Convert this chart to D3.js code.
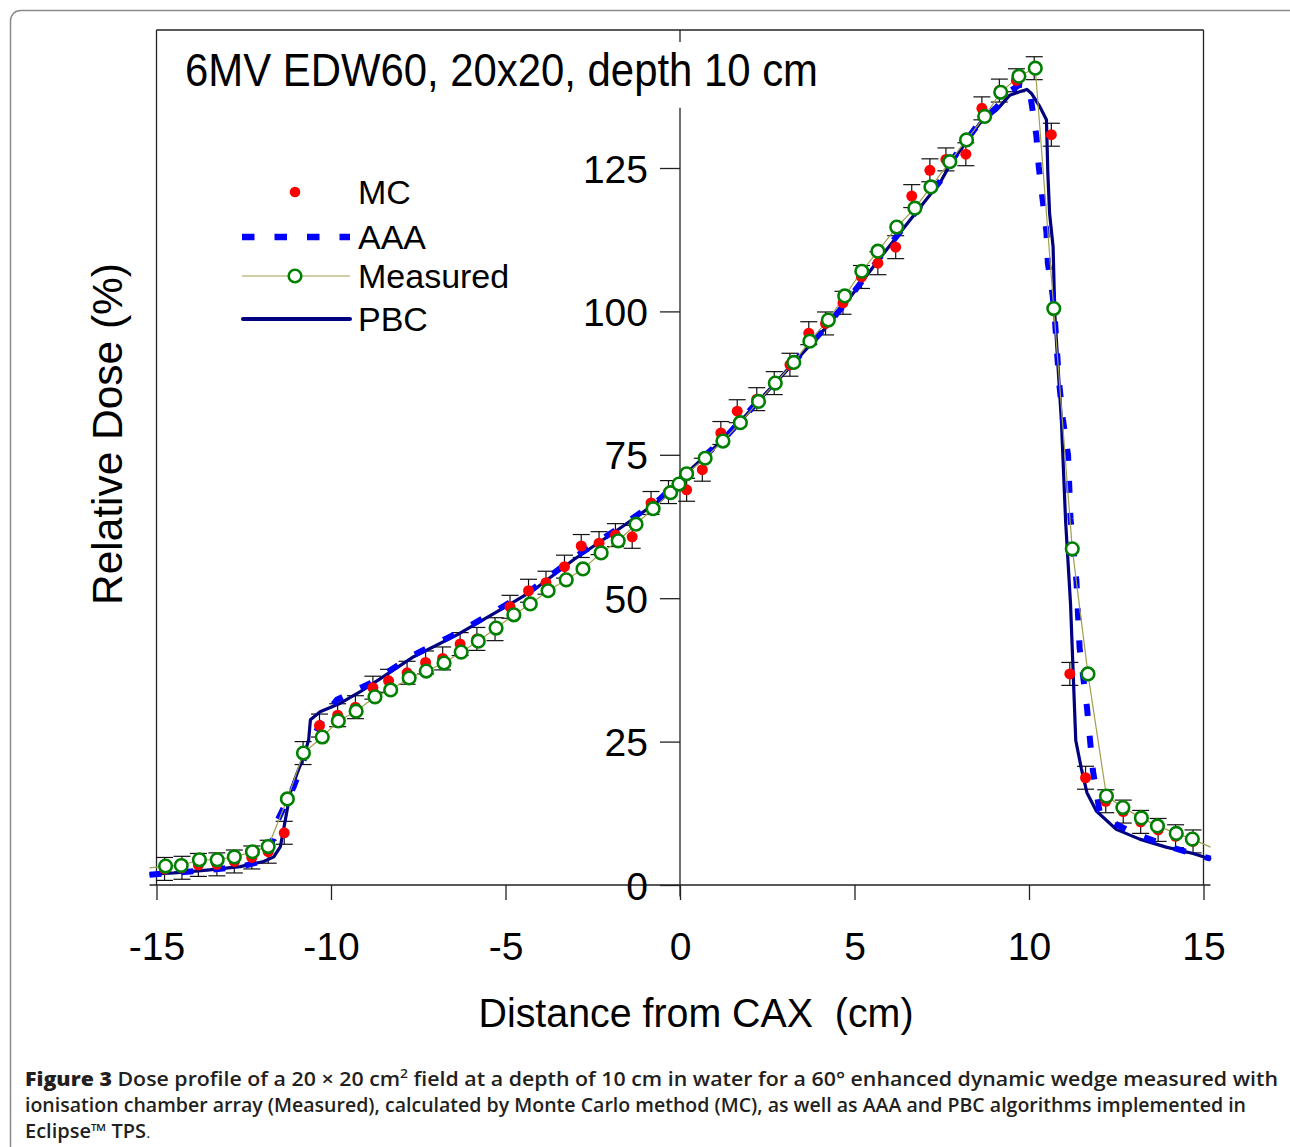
<!DOCTYPE html>
<html><head><meta charset="utf-8">
<script src="https://cdn.jsdelivr.net/npm/d3@7"></script>
<style>body{margin:0;background:#fff}svg{display:block}</style>
</head><body>
<script>
const xTicks = [-15,-10,-5,0,5,10,15];
const yTicks = [0,25,50,75,100,125];

const measuredX = [-14.74,-14.29,-13.77,-13.26,-12.77,-12.25,-11.8,-11.25,-10.79,-10.25,-9.79,-9.28,-8.74,-8.29,-7.76,-7.27,-6.76,-6.27,-5.78,-5.27,-4.76,-4.29,-3.78,-3.26,-2.78,-2.26,-1.77,-1.26,-0.77,-0.27,-0.03,0.19,0.72,1.23,1.73,2.25,2.73,3.26,3.72,4.25,4.72,5.21,5.67,6.21,6.73,7.19,7.73,8.21,8.73,9.19,9.71,10.18,10.71,11.24,11.69,12.22,12.69,13.22,13.68,14.22,14.68];
const measuredY = [3.3,3.4,4.4,4.4,4.9,5.8,6.7,15.0,23.0,25.8,28.6,30.3,32.8,34.0,36.1,37.3,38.7,40.6,42.5,44.8,47.1,49.0,51.3,53.2,55.1,57.9,60.0,62.9,65.6,68.4,69.9,71.7,74.4,77.4,80.6,84.3,87.5,91.1,94.8,98.5,102.7,107.0,110.5,114.7,118.0,121.7,126.1,129.9,134.0,138.2,141.0,142.4,100.5,58.6,36.8,15.5,13.5,11.7,10.3,9.0,8.0];
const measuredEndX = [-15.2, 15.2];
const measuredEndY = [3.0, 6.6];

const mcX = [-14.77,-14.27,-13.8,-13.27,-12.77,-12.27,-11.8,-11.34,-10.8,-10.33,-9.81,-9.3,-8.8,-8.35,-7.82,-7.29,-6.8,-6.3,-5.82,-5.3,-4.87,-4.34,-3.84,-3.31,-2.83,-2.32,-1.85,-1.37,-0.83,-0.33,0.19,0.64,1.17,1.64,2.2,2.7,3.15,3.69,4.17,4.67,5.2,5.67,6.18,6.64,7.16,7.62,8.19,8.65,9.15,9.64,10.15,10.64,11.17,11.62,12.2,12.7,13.2,13.7,14.2,14.7];
const mcY = [2.8,3.0,3.5,3.6,4.1,4.8,5.8,9.1,23.0,27.8,29.6,31.0,34.4,35.6,37.0,38.8,39.5,42.0,42.9,44.6,48.5,51.3,52.7,55.5,59.1,59.6,61.0,60.7,66.6,68.5,68.9,72.4,78.8,82.6,84.7,87.5,90.7,96.2,97.9,101.5,106.0,108.4,111.2,120.1,124.6,126.5,127.4,135.4,138.5,140.3,142.4,130.8,36.8,18.7,14.6,12.8,11.0,9.6,8.5,7.6];

const aaaX = [-15.2,-13.5,-12.5,-11.9,-11.75,-11.55,-11.07,-10.59,-10.11,-9.83,-8.87,-7.63,-6.39,-5.25,-4.2,-3.05,-1.72,-0.57,0.38,1.34,2.29,3.24,4.2,4.67,5.73,7.16,7.44,7.73,8.02,8.59,9.07,9.45,9.73,10.0,10.21,10.28,10.5,10.54,10.67,10.74,10.86,10.97,11.12,11.19,11.36,11.45,11.66,11.83,12.02,12.5,12.97,14.11,15.2];
const aaaY = [1.8,2.6,3.3,4.3,6.0,11.0,17.1,25.0,30.2,32.3,35.2,40.1,43.9,47.9,51.7,57.0,62.4,67.3,73.0,78.3,84.7,91.0,97.4,100.9,109.4,120.5,122.6,125.8,128.3,133.0,135.6,138.4,139.5,139.3,130.7,125.2,113.8,108.4,103.2,98.8,87.8,81.3,74.9,63.9,52.9,41.3,31.0,20.0,12.9,10.6,9.1,6.5,4.6];

const pbcX = [-15.2,-14.5,-13.55,-12.6,-11.93,-11.64,-11.45,-11.31,-11.17,-10.97,-10.78,-10.64,-10.59,-10.31,-9.73,-9.16,-8.78,-7.63,-6.39,-5.25,-4.2,-3.05,-1.72,-0.57,0.38,1.34,2.29,3.24,4.2,4.67,5.73,7.16,7.44,7.73,8.02,8.59,9.07,9.45,9.73,9.94,10.07,10.31,10.5,10.54,10.59,10.69,10.74,10.93,11.05,11.19,11.34,11.5,11.66,11.93,12.5,13.17,13.93,14.7,15.22];
const pbcY = [1.9,2.1,2.6,3.2,4.1,4.9,6.7,11.3,16.0,19.5,22.4,25.3,28.8,30.2,31.7,33.7,35.2,39.8,43.6,47.6,51.4,56.7,62.2,67.1,72.9,78.2,84.6,90.9,97.3,100.8,109.3,120.3,122.3,125.5,128.0,132.8,135.1,137.7,138.3,138.7,138.0,135.7,133.4,124.1,117.1,111.3,99.4,80.7,63.3,49.0,25.2,20.3,16.1,12.9,9.7,8.0,6.6,5.5,4.5];

const mcErr = 2;
const legendLabels = ["MC","AAA","Measured","PBC"];

const W = 1290, H = 1147;
const svg = d3.select("body").append("svg").attr("width", W).attr("height", H);
const font = "'Liberation Sans', Arial, sans-serif";

// outer panel border
svg.append("rect").attr("x",10.5).attr("y",10.5).attr("width",1300).attr("height",1200)
  .attr("rx",10).attr("fill","none").attr("stroke","#8a8a8a").attr("stroke-width",1.5);

const x = d3.scaleLinear().domain([-15,15]).range([156.5,1203.5]);
const y = d3.scaleLinear().domain([0,125]).range([885,168]);

// frame
const fr = svg.append("g").attr("stroke","#222").attr("stroke-width",1.3).attr("fill","none");
fr.append("line").attr("x1",x(-15)).attr("x2",x(15)).attr("y1",30).attr("y2",30);
fr.append("line").attr("x1",x(-15)).attr("x2",x(-15)).attr("y1",30).attr("y2",y(0));
fr.append("line").attr("x1",x(15)).attr("x2",x(15)).attr("y1",30).attr("y2",y(0));
fr.append("line").attr("x1",x(0)).attr("x2",x(0)).attr("y1",30).attr("y2",42);

// x axis
const xa = svg.append("g").attr("transform",`translate(0,${y(0)})`)
  .call(d3.axisBottom(x).tickValues(xTicks).tickSize(15).tickSizeOuter(0).tickFormat(d3.format("d")));
xa.select(".domain").attr("stroke","#222").attr("stroke-width",1.3).attr("d",`M${x(-15.2)},0H${x(15.2)}`);
xa.selectAll(".tick line").attr("stroke","#222").attr("stroke-width",1.3);
xa.selectAll(".tick text").attr("font-family",font).attr("font-size",39).attr("fill","#000")
  .attr("y",75).attr("dy",null).text(d => d < 0 ? "-" + Math.abs(d) : d);

// y axis at x=0
const ya = svg.append("g").attr("transform",`translate(${x(0)},0)`)
  .call(d3.axisLeft(y).tickValues(yTicks).tickSize(20).tickSizeOuter(0).tickPadding(12));
ya.select(".domain").attr("stroke","#222").attr("stroke-width",1.3).attr("d",`M0,${y(-2)}V${y(135.5)}`);
ya.selectAll(".tick line").attr("stroke","#222").attr("stroke-width",1.3);
ya.selectAll(".tick text").attr("font-family",font).attr("font-size",39).attr("fill","#000").attr("dy","0.36em");

// axis titles
svg.append("text").attr("x",696).attr("y",1027).attr("text-anchor","middle")
  .attr("font-family",font).attr("font-size",40).attr("textLength",435).attr("lengthAdjust","spacingAndGlyphs")
  .style("white-space","pre").text("Distance from CAX  (cm)");
svg.append("text").attr("transform","translate(122,434) rotate(-90)").attr("text-anchor","middle")
  .attr("font-family",font).attr("font-size",42).attr("textLength",342).attr("lengthAdjust","spacingAndGlyphs")
  .text("Relative Dose (%)");

// title
svg.append("text").attr("x",185).attr("y",86).attr("font-family",font).attr("font-size",46)
  .attr("textLength",633).attr("lengthAdjust","spacingAndGlyphs").text("6MV EDW60, 20x20, depth 10 cm");

// series
const mcData = mcX.map((v,i)=>({x:v,y:mcY[i]}));
const measData = measuredX.map((v,i)=>({x:v,y:measuredY[i]}));
const measLine = [{x:measuredEndX[0],y:measuredEndY[0]}, ...measData, {x:measuredEndX[1],y:measuredEndY[1]}];
const aaaData = aaaX.map((v,i)=>({x:v,y:aaaY[i]}));
const pbcData = pbcX.map((v,i)=>({x:v,y:pbcY[i]}));
const line = d3.line().x(d=>x(d.x)).y(d=>y(d.y));

// MC error bars
const eb = svg.append("g").attr("stroke","#111").attr("stroke-width",1.2);
mcData.forEach(d=>{
  eb.append("line").attr("x1",x(d.x)).attr("x2",x(d.x)).attr("y1",y(d.y-mcErr)).attr("y2",y(d.y+mcErr));
  [d.y-mcErr,d.y+mcErr].forEach(v=>eb.append("line").attr("x1",x(d.x)-8.5).attr("x2",x(d.x)+8.5).attr("y1",y(v)).attr("y2",y(v)));
});

svg.append("path").datum(pbcData).attr("d",line).attr("fill","none").attr("stroke","#000080").attr("stroke-width",3.2).attr("stroke-linejoin","round");
svg.append("path").datum(aaaData).attr("d",line).attr("fill","none").attr("stroke","#0000ff").attr("stroke-width",6).attr("stroke-dasharray","12,20");
svg.append("path").datum(measLine).attr("d",line).attr("fill","none").attr("stroke","#a0a050").attr("stroke-width",1.2);
svg.append("g").selectAll("circle").data(mcData).join("circle")
  .attr("cx",d=>x(d.x)).attr("cy",d=>y(d.y)).attr("r",5.5).attr("fill","#ff0000");
svg.append("g").selectAll("circle").data(measData).join("circle")
  .attr("cx",d=>x(d.x)).attr("cy",d=>y(d.y)).attr("r",6.3).attr("fill","#fff").attr("stroke","#008000").attr("stroke-width",2.6);

// legend
const lg = svg.append("g");
const ly = [192,237,276,319];
lg.append("circle").attr("cx",295).attr("cy",ly[0]).attr("r",5.3).attr("fill","#ff0000");
lg.append("line").attr("x1",242).attr("x2",350).attr("y1",ly[1]).attr("y2",ly[1]).attr("stroke","#0000ff").attr("stroke-width",6.5).attr("stroke-dasharray","12.5,20");
lg.append("line").attr("x1",242).attr("x2",350).attr("y1",ly[2]).attr("y2",ly[2]).attr("stroke","#a0a050").attr("stroke-width",1.2);
lg.append("circle").attr("cx",295).attr("cy",ly[2]).attr("r",6.3).attr("fill","#fff").attr("stroke","#008000").attr("stroke-width",2.6);
lg.append("line").attr("x1",243).attr("x2",350).attr("y1",ly[3]).attr("y2",ly[3]).attr("stroke","#000080").attr("stroke-width",4).attr("stroke-linecap","round");
legendLabels.forEach((t,i)=>lg.append("text").attr("x",358).attr("y",ly[i]+12).attr("font-family",font).attr("font-size",34).text(t));

// caption
const cf = "'Open Sans', 'DejaVu Sans', sans-serif";
const c1 = svg.append("text").attr("x",25).attr("y",1086).attr("font-family",cf).attr("font-size",20).attr("font-weight",600)
  .attr("fill","#231f20").attr("textLength",1253).attr("lengthAdjust","spacingAndGlyphs");
c1.append("tspan").attr("font-weight",800).text("Figure 3 ");
c1.append("tspan").text("Dose profile of a 20 \u00d7 20 cm");
c1.append("tspan").attr("font-size",13).attr("dy",-8).text("2");
c1.append("tspan").attr("dy",8).text(" field at a depth of 10 cm in water for a 60\u00b0 enhanced dynamic wedge measured with");
svg.append("text").attr("x",25).attr("y",1112).attr("font-family",cf).attr("font-size",20).attr("font-weight",600)
  .attr("fill","#231f20").attr("textLength",1221).attr("lengthAdjust","spacingAndGlyphs")
  .text("ionisation chamber array (Measured), calculated by Monte Carlo method (MC), as well as AAA and PBC algorithms implemented in");
const c3 = svg.append("text").attr("x",25).attr("y",1138).attr("font-family",cf).attr("font-size",20).attr("font-weight",600)
  .attr("fill","#231f20");
c3.append("tspan").text("Eclipse\u2122 TPS");
c3.append("tspan").attr("font-weight",400).attr("font-size",15).text(".");
</script>
</body></html>
